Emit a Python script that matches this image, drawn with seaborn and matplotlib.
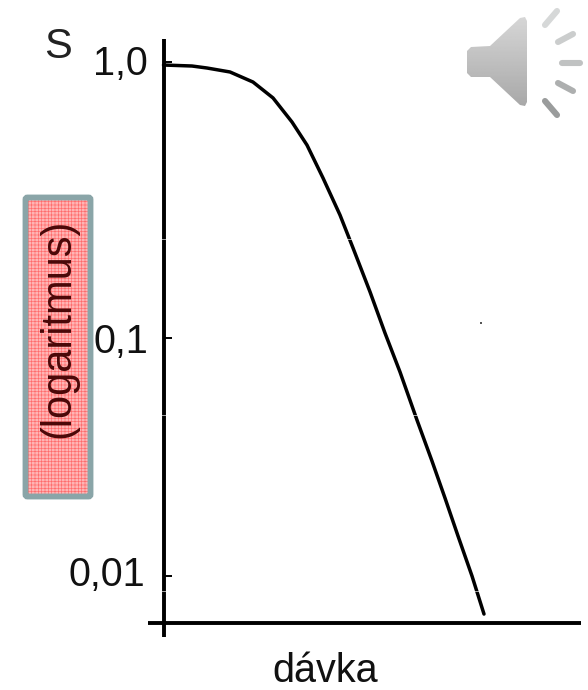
import numpy as np
import pandas as pd
import seaborn as sns
import matplotlib
matplotlib.use("Agg")
import matplotlib.pyplot as plt
from matplotlib.lines import Line2D
from matplotlib.patches import Polygon, FancyBboxPatch, Rectangle

# --- data ---
dose = [0, 28.5, 43.5, 66.5, 89.5, 109.5, 128.5, 143.5, 159.5, 176.5, 189.5, 206.5,
        221.5, 236.5, 253.5, 268.5, 281.5, 294.5, 308.5, 320.5]
survival = [0.975, 0.967, 0.951, 0.920, 0.846, 0.741, 0.606, 0.500, 0.380, 0.279, 0.212,
            0.147, 0.1042, 0.0720, 0.0452, 0.0304, 0.02126, 0.01473, 0.0100, 0.00692]
tick_values = [1.0, 0.1, 0.01]
tick_labels = ["1,0", "0,1", "0,01"]
tick_lengths = [11, 13, 18]
tick_widths = [3.2, 1.4, 1.4]
label_offset_px = [(-15.5, 2), (-15.5, 0), (-18.5, 5)]
y_limits = (0.0056, 1.2114)
axis_floor = 0.00635
x_limits = (-15.5, 417.5)

sns.set_theme(style="white")
plt.rcParams["font.family"] = ["Liberation Sans", "DejaVu Sans"]
plt.rcParams["hatch.linewidth"] = 0.45

W, H = 588, 690
fig = plt.figure(figsize=(W / 100, H / 100), dpi=100, facecolor="white")

# pixel-space overlay for decorations
bg = fig.add_axes([0, 0, 1, 1], zorder=0)
bg.set_xlim(0, W)
bg.set_ylim(H, 0)
bg.axis("off")

# axes rectangle
L, R, T, B = 148, 581, 39, 637
ax = fig.add_axes([L / W, 1 - B / H, (R - L) / W, (B - T) / H], zorder=1)
ax.patch.set_alpha(0)


# the picture's decades are not equally long
def fwd(v):
    lg = np.log10(np.maximum(v, 1e-9))
    return np.where(lg >= -1, (lg + 1) * 276, (lg + 1) * 238)


def inv(p):
    p = np.asarray(p, dtype=float)
    return 10 ** (np.where(p >= 0, p / 276, p / 238) - 1)


ax.set_yscale("function", functions=(fwd, inv))
df = pd.DataFrame({"dose": dose, "S": survival})
sns.lineplot(data=df, x="dose", y="S", ax=ax, color="black", lw=2.5, errorbar=None)
ax.set_xlim(*x_limits)
ax.set_ylim(10 ** (-2 - (637 - 576) / 238), y_limits[1])
ax.set_xlabel("")
ax.set_ylabel("")
ax.set_xticks([])
ax.set_yticks(tick_values)
ax.set_yticklabels([])
ax.minorticks_off()
ax.tick_params(axis="y", which="major", direction="in", left=True, width=1.4, color="black")
for t, ln, wd in zip(ax.yaxis.get_major_ticks(), tick_lengths, tick_widths):
    t.tick1line.set_markersize(ln * 0.72)
    t.tick1line.set_markeredgewidth(wd)
for val, lab, off in zip(tick_values, tick_labels, label_offset_px):
    ax.annotate(lab, xy=(0, val), xycoords="data", xytext=off, textcoords="offset pixels",
                ha="right", va="center_baseline", fontsize=28.5, color="#111111",
                annotation_clip=False)

# short stub of the 1,0 tick left of the axis
ax.set_yticks(tick_values[:1], minor=True)
ax.set_yticklabels([], minor=True)
ax.tick_params(axis="y", which="minor", direction="out", left=True, length=3, width=3.2,
               color="black")

for s in ("top", "right"):
    ax.spines[s].set_visible(False)
ax.spines["left"].set_position(("data", 0))
ax.spines["bottom"].set_position(("data", axis_floor))
for s in ("left", "bottom"):
    ax.spines[s].set_linewidth(2.8)
    ax.spines[s].set_color("black")
    ax.spines[s].set_capstyle("butt")

# titles
bg.text(58, 47, "S", fontsize=30, ha="center", va="center", color="#222222")
bg.text(325, 682, "dávka", fontsize=28.5, ha="center", va="baseline", color="#111111")

# red box with rotated label
bg.add_patch(Rectangle((26, 198), 64, 298, facecolor="#ffb4b4", edgecolor="#ff6a6a",
                       hatch="+++++", lw=0, zorder=2))
bg.add_patch(FancyBboxPatch((25.5, 197.5), 65, 299, boxstyle="round,pad=0,rounding_size=2",
                            fill=False, edgecolor="#8aa5a8", lw=4.2, zorder=3))
bg.text(58, 328, "(logaritmus)", rotation=90, fontsize=30, ha="center", va="center",
        color="#4a0808", zorder=4)

# speaker icon
body = Polygon([(467, 51), (471, 47), (490, 46), (520, 18), (525, 17), (527, 21), (527, 102),
                (525, 106), (520, 105), (490, 77), (471, 77), (467, 73)],
               closed=True, transform=bg.transData, facecolor="none", edgecolor="none")
bg.add_patch(body)
grad = np.linspace(0.84, 0.66, 64).reshape(-1, 1)
im = bg.imshow(grad, extent=(467, 527, 106, 17), cmap="gray", vmin=0, vmax=1,
               aspect="auto", zorder=2)
im.set_clip_path(body)
bg.set_xlim(0, W)
bg.set_ylim(H, 0)
rays = [((545, 25), (557, 11), "#d6d8d8"), ((558, 42), (573, 34), "#cbcdcd"),
        ((562, 63), (580, 63), "#c0c2c2"), ((558, 83), (573, 91), "#adafaf"),
        ((545, 101), (557, 115), "#9a9c9c")]
for a, b, c in rays:
    bg.plot([a[0], b[0]], [a[1], b[1]], color=c, lw=4.4, solid_capstyle="round")

# stray speck
bg.plot([481], [323], marker="s", ms=1.6, color="#555555", mew=0)

# hairline scan seams across axis and curve
for yy in (239, 415, 591):
    fig.add_artist(Line2D([100 / W, 1], [1 - yy / H, 1 - yy / H], color="white", lw=0.5,
                          alpha=0.9, zorder=10))

fig.savefig("out.png", dpi=100)
